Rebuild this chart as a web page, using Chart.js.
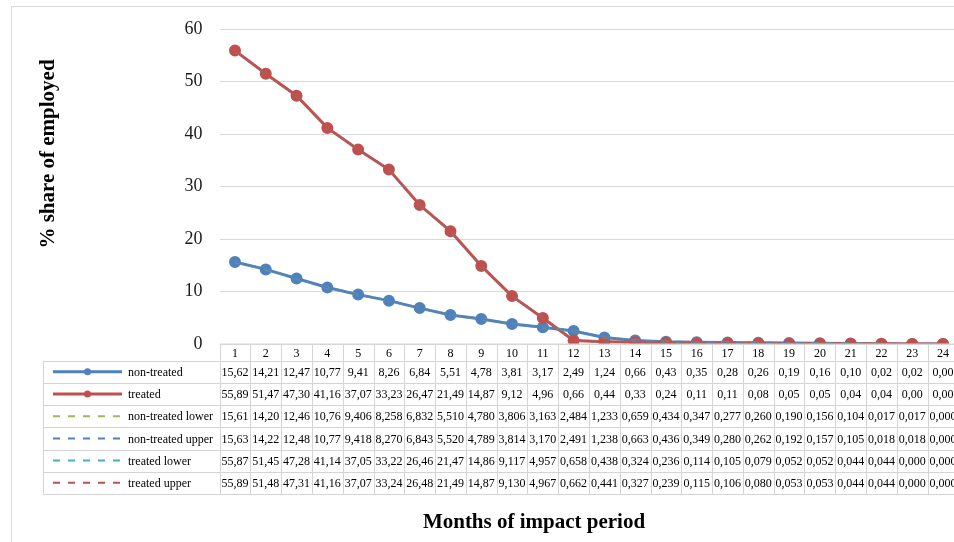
<!DOCTYPE html>
<html>
<head>
<meta charset="utf-8">
<script src="https://cdn.jsdelivr.net/npm/chart.js@4.4.1/dist/chart.umd.min.js"></script>
<style>
  html, body { margin: 0; padding: 0; background: #fff; overflow: hidden; }
  #frame { position: absolute; left: 11px; top: 6px; width: 1000px; height: 600px; border: 1px solid #d9d9d9; }
  #wrap { position: absolute; left: 0; top: 0; width: 970px; height: 542px; }
</style>
</head>
<body>
<div id="frame"></div>
<div id="wrap"><canvas id="chart"></canvas></div>
<script>
// months of the impact period (x categories)
const months = ['1','2','3','4','5','6','7','8','9','10','11','12','13','14','15','16','17','18','19','20','21','22','23','24'];

const nonTreated = [15.62, 14.21, 12.47, 10.77, 9.41, 8.26, 6.84, 5.51, 4.78, 3.81, 3.17, 2.49, 1.24, 0.66, 0.43, 0.35, 0.28, 0.26, 0.19, 0.16, 0.10, 0.02, 0.02, 0.00];
const treated = [55.89, 51.47, 47.30, 41.16, 37.07, 33.23, 26.47, 21.49, 14.87, 9.12, 4.96, 0.66, 0.44, 0.33, 0.24, 0.11, 0.11, 0.08, 0.05, 0.05, 0.04, 0.04, 0.00, 0.00];
const nonTreatedLower = [15.61, 14.20, 12.46, 10.76, 9.406, 8.258, 6.832, 5.510, 4.780, 3.806, 3.163, 2.484, 1.233, 0.659, 0.434, 0.347, 0.277, 0.260, 0.190, 0.156, 0.104, 0.017, 0.017, 0.000];
const nonTreatedUpper = [15.63, 14.22, 12.48, 10.77, 9.418, 8.270, 6.843, 5.520, 4.789, 3.814, 3.170, 2.491, 1.238, 0.663, 0.436, 0.349, 0.280, 0.262, 0.192, 0.157, 0.105, 0.018, 0.018, 0.000];
const treatedLower = [55.87, 51.45, 47.28, 41.14, 37.05, 33.22, 26.46, 21.47, 14.86, 9.117, 4.957, 0.658, 0.438, 0.324, 0.236, 0.114, 0.105, 0.079, 0.052, 0.052, 0.044, 0.044, 0.000, 0.000];
const treatedUpper = [55.89, 51.48, 47.31, 41.16, 37.07, 33.24, 26.48, 21.49, 14.87, 9.130, 4.967, 0.662, 0.441, 0.327, 0.239, 0.115, 0.106, 0.080, 0.053, 0.053, 0.044, 0.044, 0.000, 0.000];

const yMin = 0, yMax = 60, yStep = 10;

const FONT = '"Liberation Serif", "DejaVu Serif", serif';

// bounds rows show 4 significant digits in the table
function fmtCell(v, precise) {
    const d = precise ? (v >= 10 ? 2 : 3) : 2;
    return v.toFixed(d).replace('.', ',');
}

function solid(label, data, color, order) {
    return {
        label: label, data: data, borderColor: color, backgroundColor: color,
        borderWidth: 3, pointRadius: 4.5, pointHoverRadius: 4.5,
        pointBackgroundColor: color, pointBorderColor: color,
        tension: 0, order: order, precise: false
    };
}

function dashed(label, data, color, order) {
    return {
        label: label, data: data, borderColor: color, backgroundColor: color,
        borderWidth: 2, borderDash: [7, 8], pointRadius: 0,
        tension: 0, order: order, precise: true
    };
}

// data table under the plot + axis titles
const dataTable = {
    id: 'dataTable',
    afterDraw(chart) {
        const ctx = chart.ctx;
        const x = chart.scales.x;
        const area = chart.chartArea;
        const colW = x.getPixelForValue(1) - x.getPixelForValue(0);
        const tableLeft = 43;
        const headTop = area.bottom;
        const headH = 16.7;
        const rowH = 22.2;
        const rowsTop = headTop + headH;
        const sets = chart.data.datasets;
        const tableBottom = rowsTop + sets.length * rowH;

        ctx.save();
        ctx.strokeStyle = '#d4d4d4';
        ctx.lineWidth = 1;
        ctx.beginPath();
        ctx.moveTo(area.left, headTop);
        ctx.lineTo(area.right, headTop);
        for (let r = 0; r <= sets.length; r++) {
            const yy = Math.round(rowsTop + r * rowH) + 0.5;
            ctx.moveTo(tableLeft, yy);
            ctx.lineTo(area.right, yy);
        }
        ctx.moveTo(tableLeft + 0.5, rowsTop);
        ctx.lineTo(tableLeft + 0.5, tableBottom);
        for (let i = 0; i <= months.length; i++) {
            const xx = Math.round(area.left + i * colW) + 0.5;
            ctx.moveTo(xx, headTop);
            ctx.lineTo(xx, tableBottom);
        }
        ctx.stroke();

        ctx.fillStyle = '#000';
        ctx.font = '12px ' + FONT;
        ctx.textAlign = 'center';
        ctx.textBaseline = 'middle';
        months.forEach((m, i) => ctx.fillText(m, x.getPixelForValue(i), headTop + headH / 2 + 1));

        sets.forEach((ds, r) => {
            const cy = rowsTop + r * rowH + rowH / 2;
            ctx.save();
            ctx.strokeStyle = ds.borderColor;
            ctx.lineWidth = ds.borderWidth;
            ctx.setLineDash(ds.borderDash || []);
            ctx.beginPath();
            ctx.moveTo(53, cy);
            ctx.lineTo(122, cy);
            ctx.stroke();
            if (ds.pointRadius > 0) {
                ctx.fillStyle = ds.borderColor;
                ctx.beginPath();
                ctx.arc(87.5, cy, 3.5, 0, Math.PI * 2);
                ctx.fill();
            }
            ctx.restore();
            ctx.textAlign = 'left';
            ctx.fillText(ds.label, 128, cy + 1);
            ctx.textAlign = 'center';
            ds.data.forEach((v, i) => ctx.fillText(fmtCell(v, ds.precise), x.getPixelForValue(i), cy + 1));
        });

        ctx.font = 'bold 21px ' + FONT;
        ctx.fillText('Months of impact period', 534, 523);
        ctx.translate(49, 154);
        ctx.rotate(-Math.PI / 2);
        ctx.fillText('% share of employed', 0, 0);
        ctx.restore();
    }
};

const chart = new Chart(document.getElementById('chart'), {
    type: 'line',
    data: {
        labels: months,
        datasets: [
            solid('non-treated', nonTreated, '#4f81bd', 6),
            solid('treated', treated, '#c0504d', 5),
            dashed('non-treated lower', nonTreatedLower, '#9bbb59', 4),
            dashed('non-treated upper', nonTreatedUpper, '#4f81bd', 3),
            dashed('treated lower', treatedLower, '#4bacc6', 2),
            dashed('treated upper', treatedUpper, '#c0504d', 1)
        ]
    },
    options: {
        responsive: true,
        maintainAspectRatio: false,
        animation: false,
        layout: { padding: { left: 0, top: 29, right: 11.6, bottom: 198 } },
        plugins: { legend: { display: false }, tooltip: { enabled: false } },
        scales: {
            x: { display: false, offset: true },
            y: {
                min: yMin, max: yMax,
                ticks: { stepSize: yStep, padding: 17, color: '#1a1a1a', font: { family: FONT, size: 18 } },
                grid: { color: '#d9d9d9', lineWidth: 1, drawTicks: false },
                border: { display: false },
                afterFit(scale) { scale.width = 219.6; }
            }
        }
    },
    plugins: [dataTable]
});
</script>
</body>
</html>
